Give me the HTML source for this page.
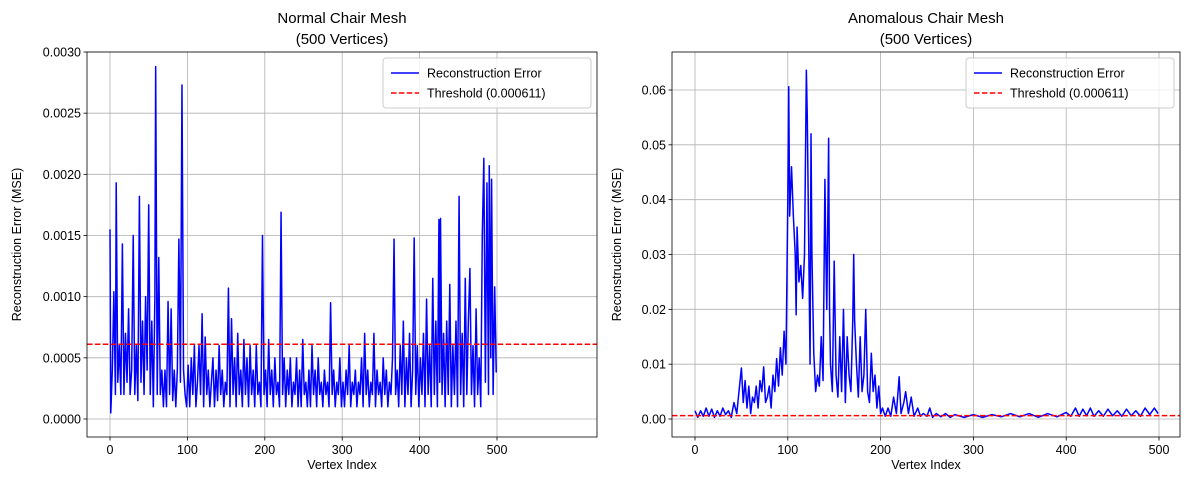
<!DOCTYPE html>
<html><head><meta charset="utf-8">
<style>
html,body{margin:0;padding:0;background:#fff;}
svg{display:block;font-family:"Liberation Sans","DejaVu Sans",sans-serif;}
</style></head>
<body>
<svg id="chart" width="1189" height="489" viewBox="0 0 1189 489" xmlns="http://www.w3.org/2000/svg"></svg>
<script>
// Left chart data (values in units of 1e-4 MSE)
const leftIdx = [0,1,3,5,7,8,10,12,14,16,18,20,22,24,26,28,30,32,34,36,38,40,42,44,46,48,50,52,54,56,58,59,61,63,65,67,69,71,73,75,77,79,81,83,85,87,89,91,93,95,97,99,101,103,105,107,109,111,113,115,117,119,121,123,125,127,129,131,133,135,137,139,141,143,145,147,149,151,153,155,157,159,161,163,165,167,169,171,173,175,177,179,181,183,185,187,189,191,193,195,197,199,201,203,205,207,209,211,213,215,217,219,221,223,225,227,229,231,233,235,237,239,241,243,245,247,249,251,253,255,257,259,261,263,265,267,269,271,273,275,277,279,281,283,285,287,289,291,293,295,297,299,301,303,305,307,309,311,313,315,317,319,321,323,325,327,329,331,333,335,337,339,341,343,345,347,349,351,353,355,357,359,361,363,365,367,369,371,373,375,377,379,381,383,385,387,389,391,393,395,397,399,401,403,405,407,409,411,413,415,417,419,421,423,425,426,427,429,431,433,435,437,439,441,443,445,447,449,451,453,455,457,459,461,463,465,467,469,471,473,475,477,479,481,483,485,487,489,490,492,493,495,497,499];
const leftVal = [15.5,0.5,4,10.4,2,19.3,3,6,2,14.3,2,7,3,9,2,4,15,2,6,1.5,18.2,3,8,2,10,4,17.5,2,8,1,10,28.8,2,13.2,2,4,1,4,1,9.6,2,9,1.5,4,1,4,14.7,3,27.3,4,2,1,4.4,1,5,2,6,1,3,6,2,8.6,1,6.7,2,4,1,3,5,1,4,1.5,6,2,4,1,3,2,10.7,1,8.2,2,5,1,7,2,4,1,6.5,2,5,1,6,2,4,1,6,2,3,1,15,2,4,1,6.5,2,4,1,5,2,3,1,16.9,2,5,1,4,2,5,1,3,2,5,1,4,1,6.5,2,3,1,4,1,6,2,4,1,5,2,3,1,4,2,3,1,9.5,2,4,1,3,2,5,1,3,1,4,2,6,1,3,2,4,1,3,2,5,1,7,2,4,1,3,2,7,1,4,2,3,1,5,2,4,1,3,2,5,14.7,2,4,1,6,2,8,1,5,2,7,1,4,14.8,2,6,1,5,2,7,1,9.8,2,6,1,11.5,2,8,1,16.3,3,16.4,2,7,1,8,2,11,1,6,2,8,1,18.2,2,7,1,11.5,2,8,12.3,2,6,1,9,2,5,1,15,21.3,3,19.3,2,20.7,5,19.6,2,10.8,3.8];
const leftTicksX = [0,100,200,300,400,500];
const leftTicksY = [0,0.0005,0.0010,0.0015,0.0020,0.0025,0.0030];
const leftThreshold = 0.000611;

// Right chart data (values in units of 1e-3 MSE)
const rightIdx = [0,3,6,9,12,15,18,21,24,27,30,33,36,39,42,45,48,50,52,54,56,58,60,62,64,66,68,70,72,74,76,78,80,82,84,86,88,90,92,94,96,98,100,101,102,104,106,108,109,110,112,114,116,118,120,121,122,124,125,126,128,130,132,134,136,138,140,141,142,143,144,145,146,148,150,152,154,156,158,160,162,164,166,168,170,171,172,174,176,178,180,182,184,186,188,190,192,194,196,198,200,202,205,208,211,214,217,220,222,225,227,230,233,236,240,243,246,250,253,256,260,265,270,275,280,290,300,310,320,330,340,350,360,370,380,390,400,405,410,414,418,422,426,430,435,440,445,450,455,460,465,470,475,480,485,490,495,499];
const rightVal = [1.5,0.3,1.5,0.5,2,0.5,1.8,0.3,1.5,0.5,2,0.8,1.5,0.3,3,1,6,9.3,3,7,2,6,1,4,3,6,2,7,5,9.5,3,4,6,2,8,5,11,6,13,8,16,10,40,60.6,37,46,37,30,19,35,25,28,22,30,63.6,55,40,10,52,30,12,5,8,6,15,7,43.7,30,20,35,51.2,20,10,5,28.8,8,4,15,5,20,3,15,8,5,18,30,18,10,4,15,5,8,20,5,3,12,5,8,2,6,1,2,0.5,2,0.5,4,1,7.7,1,3,5,1,4,0.5,2,0.5,1,0.5,2,0.3,1,0.4,1,0.3,0.8,0.3,0.8,0.3,0.8,0.4,1,0.4,1,0.3,1,0.4,1.2,0.5,2,0.5,1.8,0.6,2,0.5,1.5,0.5,1.8,0.6,1.5,0.5,1.8,0.6,1.5,0.5,2,0.8,2,1];
const rightTicksX = [0,100,200,300,400,500];
const rightTicksY = [0,0.01,0.02,0.03,0.04,0.05,0.06];
const rightThreshold = 0.000611;

const NS = "http://www.w3.org/2000/svg";
const svg = document.getElementById('chart');
function mk(tag, attrs, parent, text){
  const e = document.createElementNS(NS, tag);
  for (const k in attrs) e.setAttribute(k, attrs[k]);
  if (text !== undefined) e.textContent = text;
  (parent || svg).appendChild(e);
  return e;
}

function drawPanel(cfg){
  const g = mk('g', {});
  
  
  const sx = v => cfg.x0px + (v - 0) * (cfg.x500px - cfg.x0px) / 500;
  const sy = v => cfg.y0px - v * (cfg.y0px - cfg.yTopPx) / cfg.yTopVal;
  // grid
  cfg.ticksX.forEach(t => {
    const l = mk('line', {x1:sx(t), x2:sx(t), y1:cfg.top, y2:cfg.bottom, stroke:'#b0b0b0', 'stroke-width':0.8}, g);
    
    
  });
  cfg.ticksY.forEach(t => {
    const l = mk('line', {x1:cfg.left, x2:cfg.right, y1:sy(t), y2:sy(t), stroke:'#b0b0b0', 'stroke-width':0.8}, g);
    
    
  });
  // series
  const pts = cfg.idx.map((i, k) => sx(i).toFixed(2) + ',' + sy(cfg.val[k] * cfg.scale).toFixed(2)).join(' ');
  const line = mk('polyline', {points:pts, fill:'none', stroke:'#0000ff', 'stroke-width':1.5, 'stroke-linejoin':'round'}, g);
  
  
  // threshold
  const th = mk('line', {x1:cfg.left, x2:cfg.right, y1:sy(cfg.threshold), y2:sy(cfg.threshold), stroke:'#ff0000', 'stroke-width':1.5, 'stroke-dasharray':'5.5,2.4'}, g);
  
  
  // frame
  const fr = mk('rect', {x:cfg.left, y:cfg.top, width:cfg.right-cfg.left, height:cfg.bottom-cfg.top, fill:'none', stroke:'#000', 'stroke-width':0.8}, g);
  
  
  // ticks
  cfg.ticksX.forEach(t => {
    mk('line', {x1:sx(t), x2:sx(t), y1:cfg.bottom, y2:cfg.bottom+3.5, stroke:'#000', 'stroke-width':0.8}, g);
    const tx = mk('text', {x:sx(t), y:cfg.bottom+17, 'font-size':12.5, 'text-anchor':'middle'}, g, String(t));
    
    
  });
  cfg.ticksY.forEach(t => {
    mk('line', {x1:cfg.left-3.5, x2:cfg.left, y1:sy(t), y2:sy(t), stroke:'#000', 'stroke-width':0.8}, g);
    const ty = mk('text', {x:cfg.left-6, y:sy(t)+4.5, 'font-size':12.5, 'text-anchor':'end'}, g, t.toFixed(cfg.dec));
    
    
  });
  // titles
  const cx = (cfg.left + cfg.right) / 2;
  const t1 = mk('text', {x:cx, y:23, 'font-size':15, 'text-anchor':'middle'}, g, cfg.title);
  
  
  const t2 = mk('text', {x:cx, y:44, 'font-size':15, 'text-anchor':'middle'}, g, '(500 Vertices)');
  
  
  const xl = mk('text', {x:cx, y:cfg.bottom+32, 'font-size':12.5, 'text-anchor':'middle'}, g, 'Vertex Index');
  
  
  const yx = cfg.ylabX, yy = (cfg.top + cfg.bottom) / 2;
  const yl = mk('text', {x:yx, y:yy, 'font-size':12.5, 'text-anchor':'middle', transform:'rotate(-90 '+yx+' '+yy+')'}, g, 'Reconstruction Error (MSE)');
  
  
  // legend
  const lg = mk('g', {}, g);
  
  
  const lx = cfg.right - 214, ly = cfg.top + 6;
  mk('rect', {x:lx, y:ly, width:208, height:50, rx:3, fill:'#fff', 'fill-opacity':0.8, stroke:'#cccccc', 'stroke-width':1}, lg);
  mk('line', {x1:lx+8, x2:lx+36, y1:ly+15, y2:ly+15, stroke:'#0000ff', 'stroke-width':1.5}, lg);
  const le1 = mk('text', {x:lx+44, y:ly+19.5, 'font-size':12.5}, lg, 'Reconstruction Error');
  
  
  mk('line', {x1:lx+8, x2:lx+36, y1:ly+35, y2:ly+35, stroke:'#ff0000', 'stroke-width':1.5, 'stroke-dasharray':'5.5,2.4'}, lg);
  const le2 = mk('text', {x:lx+44, y:ly+39.5, 'font-size':12.5}, lg, 'Threshold (0.000611)');
  
  
}

drawPanel({name:'normal-chair-panel', title:'Normal Chair Mesh', idx:leftIdx, val:leftVal, scale:1e-4,
  ticksX:leftTicksX, ticksY:leftTicksY, threshold:leftThreshold, dec:4,
  left:87, right:597, top:52, bottom:437, x0px:110, x500px:497, y0px:419, yTopPx:52, yTopVal:0.0030, ylabX:21});
drawPanel({name:'anomalous-chair-panel', title:'Anomalous Chair Mesh', idx:rightIdx, val:rightVal, scale:1e-3,
  ticksX:rightTicksX, ticksY:rightTicksY, threshold:rightThreshold, dec:2,
  left:672, right:1180, top:52, bottom:437, x0px:695, x500px:1159, y0px:419, yTopPx:90, yTopVal:0.06, ylabX:621});
</script>
</body></html>
